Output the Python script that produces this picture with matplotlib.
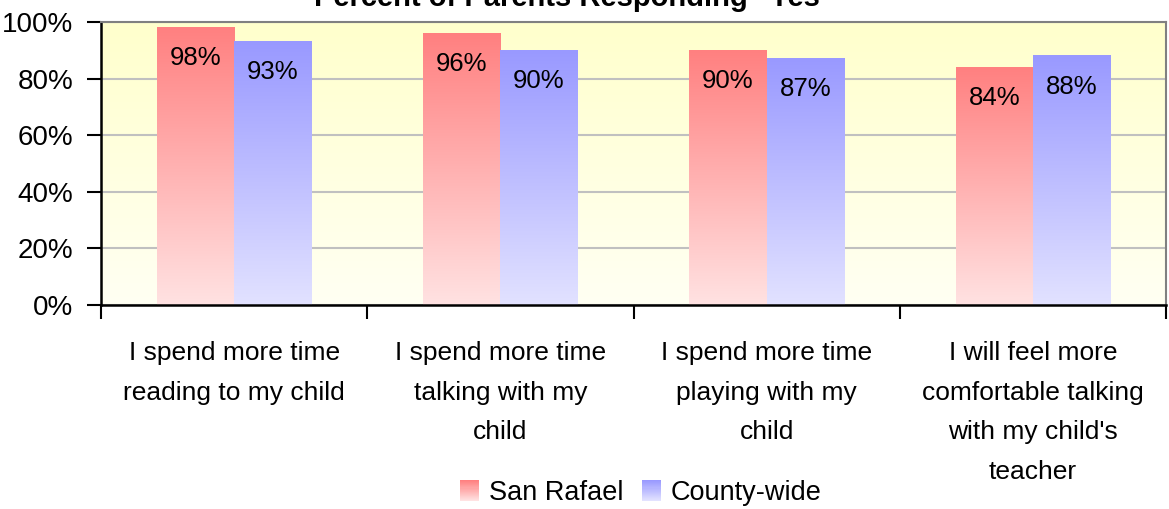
import numpy as np
import matplotlib
matplotlib.use("Agg")
import matplotlib.pyplot as plt
from matplotlib.colors import LinearSegmentedColormap
from matplotlib.legend_handler import HandlerBase
from matplotlib.patches import Rectangle, Patch

plt.rcParams['font.family'] = ['Liberation Sans', 'DejaVu Sans']

categories = [
    "I spend more time\nreading to my child",
    "I spend more time\ntalking with my\nchild",
    "I spend more time\nplaying with my\nchild",
    "I will feel more\ncomfortable talking\nwith my child's\nteacher",
]
series_names = ["San Rafael", "County-wide"]
san_rafael = [98, 96, 90, 84]
county_wide = [93, 90, 87, 88]
y_ticks = [0, 20, 40, 60, 80, 100]
title = 'Percent of Parents Responding "Yes"'

red_top, red_bot = "#FF8080", "#FFE2E2"
blue_top, blue_bot = "#9999FF", "#E2E2FF"
bg_top, bg_bot = "#FFFFCC", "#FFFFF3"

fig = plt.figure(figsize=(11.69, 5.09), dpi=100)
ax = fig.add_axes([101/1169, 1 - 305/509, (1166-101)/1169, (305-22)/509])

# background gradient
bg_cmap = LinearSegmentedColormap.from_list("bg", [bg_bot, bg_top])
grad = np.linspace(0, 1, 256).reshape(-1, 1)
ax.imshow(grad, cmap=bg_cmap, aspect='auto', extent=[0, 1, 0, 1],
          transform=ax.transAxes, origin='lower', zorder=0)

width = 0.29
x = np.arange(len(categories))
red_cmap = LinearSegmentedColormap.from_list("r", [red_bot, red_top])
blue_cmap = LinearSegmentedColormap.from_list("b", [blue_bot, blue_top])

for vals, off, cmap in [(san_rafael, -width/2, red_cmap), (county_wide, width/2, blue_cmap)]:
    for xi, v in zip(x, vals):
        x0 = xi + off - width/2
        ax.imshow(grad, cmap=cmap, aspect='auto', extent=[x0, x0 + width, 0, v],
                  origin='lower', zorder=2)
        ax.text(xi + off, v - 10.8, f"{v}%", ha='center', va='center',
                fontsize=18.5, color='black', zorder=3)

ax.set_xlim(-0.5, len(categories) - 0.5)
ax.set_ylim(0, 100)
ax.set_aspect('auto')

ax.set_yticks(y_ticks)
ax.set_yticklabels([f"{t}%" for t in y_ticks], fontsize=20)
ax.tick_params(axis='y', direction='out', length=10, width=1.5, pad=10, color='black')

ax.set_xticks(np.arange(len(categories) + 1) - 0.5)
ax.set_xticklabels([])
ax.tick_params(axis='x', which='major', direction='out', length=10, width=1.5, color='black')
ax.set_xticks(x, minor=True)
ax.set_xticklabels(categories, minor=True, fontsize=19, linespacing=1.82)
ax.tick_params(axis='x', which='minor', length=0, pad=26)

ax.set_axisbelow(True)
ax.yaxis.grid(True, color='#C0C0C0', linewidth=1.5)

for s in ['left', 'bottom']:
    ax.spines[s].set_color('black')
    ax.spines[s].set_linewidth(1.8)
for s in ['top', 'right']:
    ax.spines[s].set_color('#808080')
    ax.spines[s].set_linewidth(1.5)

fig.text(574/1169, 1 - 6/509, title, ha='center', va='baseline',
         fontsize=21, fontweight='bold')


class GradHandler(HandlerBase):
    def __init__(self, top, bot):
        super().__init__()
        self.top = top
        self.bot = bot

    def create_artists(self, legend, orig_handle, xdescent, ydescent, width, height, fontsize, trans):
        cm = LinearSegmentedColormap.from_list("h", [self.bot, self.top])
        n = 20
        arts = []
        for i in range(n):
            r = Rectangle((-xdescent, -ydescent + height * i / n), width, height / n + 0.01,
                          facecolor=cm(i / (n - 1)), edgecolor='none', transform=trans)
            arts.append(r)
        return arts


h1 = Patch(label=series_names[0])
h2 = Patch(label=series_names[1])
leg = fig.legend([h1, h2], series_names, loc='center', bbox_to_anchor=(641/1169, 1 - 493/509),
                 ncol=2, frameon=False, fontsize=19.5, handlelength=0.7, handleheight=0.8,
                 handletextpad=0.35, columnspacing=0.7, borderpad=0,
                 handler_map={h1: GradHandler(red_top, red_bot), h2: GradHandler(blue_top, blue_bot)})

fig.savefig("out.png", dpi=100)
